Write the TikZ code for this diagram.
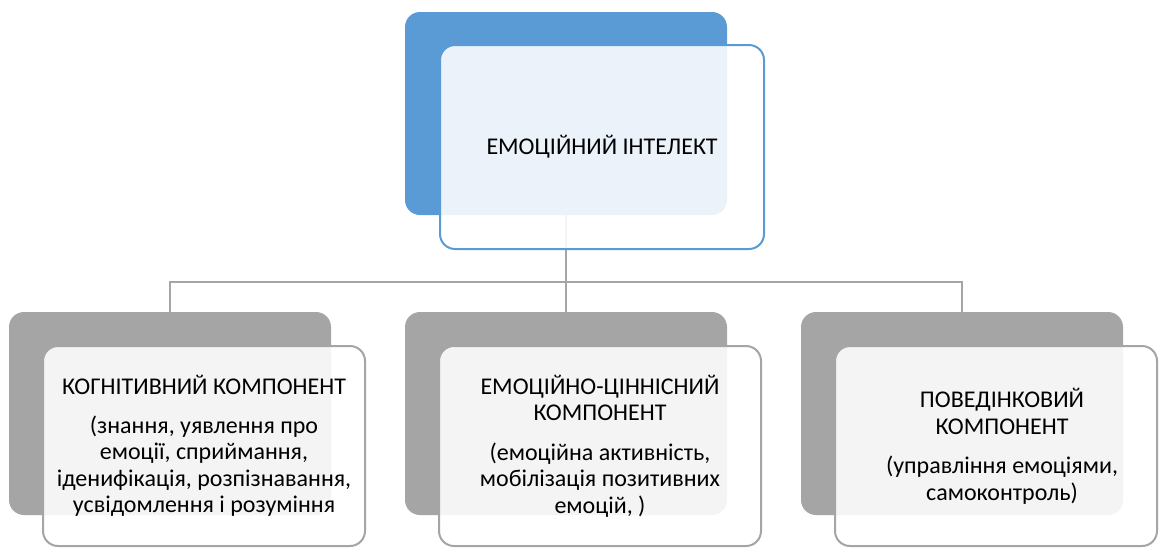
\documentclass[tikz,border=0pt]{standalone}
\usepackage{fontspec}
\setmainfont{Carlito}
\usetikzlibrary{positioning}
\usetikzlibrary{calc}
\definecolor{headblue}{HTML}{5B9BD5}
\definecolor{partgray}{HTML}{A5A5A5}
\tikzset{
	x=1pt, y=1pt,
	every path/.style={line width=2pt},
	every node/.style={align=center,outer sep=0pt,inner sep=0pt},
	backbox/.style={rectangle, rounded corners=15pt, minimum width=322pt, minimum height=203pt},
	frontbox/.style={rectangle, rounded corners=15pt, fill=white, fill opacity=0.88, text opacity=1,
		minimum width=322pt, minimum height=200pt, anchor=north west,
		font=\fontsize{24}{26.5}\selectfont},
	head/.style={backbox, fill=headblue},
	part/.style={backbox, fill=partgray},
	headtext/.style={frontbox, draw=headblue, minimum width=324pt, minimum height=204pt},
	parttext/.style={frontbox, draw=partgray},
	link/.style={draw=partgray}
}

\begin{document}
\begin{tikzpicture}
	\useasboundingbox (0,0) rectangle (1166,-547);
	
	\node[head] (ei) at (566, -113.5) {};
	
	\node[part] (cog) at (170, -413.5) {};
	\node[part] (emo) at (566, -413.5) {};
	\node[part] (beh) at (962, -413.5) {};
	
	% tree lines
	\coordinate (bus) at (566, -282);
	\path[link] (ei.south) -- (bus);
	\path[link] (emo.north) -- (bus);
	\path[link] (cog.north) |- (bus) -| (beh.north);
	
	\node[headtext] (eit) at ([shift={(35,-33)}]ei.north west) {ЕМОЦІЙНИЙ ІНТЕЛЕКТ};
	
	\node[parttext] (cogt) at ([shift={(34,-34)}]cog.north west)
		{КОГНІТИВНИЙ КОМПОНЕНТ\\[12pt](знання, уявлення про\\емоції, сприймання,\\іденифікація, розпізнавання,\\усвідомлення і розуміння};
	\node[parttext] (emot) at ([shift={(34,-34)}]emo.north west)
		{ЕМОЦІЙНО-ЦІННІСНИЙ\\КОМПОНЕНТ\\[13pt](емоційна активність,\\мобілізація позитивних\\емоцій, )};
	\node[parttext] (beht) at ([shift={(34,-34)}]beh.north west)
		{\hspace*{12pt}ПОВЕДІНКОВИЙ\\\hspace*{12pt}КОМПОНЕНТ\\[13pt]\hspace*{12pt}(управління емоціями,\\\hspace*{12pt}самоконтроль)};
	
\end{tikzpicture}
\end{document}
